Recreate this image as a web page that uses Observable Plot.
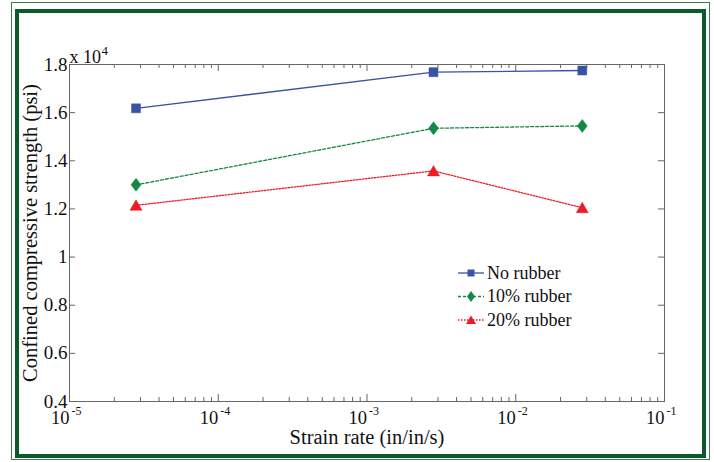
<!DOCTYPE html>
<html><head><meta charset="utf-8">
<script src="https://cdn.jsdelivr.net/npm/d3@7"></script>
<script src="https://cdn.jsdelivr.net/npm/@observablehq/plot@0.6"></script>
<style>
body{margin:0;background:#fff;}
#wrap{position:relative;width:714px;height:462px;overflow:hidden;background:#fff;font-family:"Liberation Serif","Times New Roman",serif;}
.b{position:absolute;box-sizing:border-box;}
#chart,#legend{position:absolute;left:0;top:0;}
</style></head><body>
<div id="wrap">
  <div class="b" style="left:11px;top:2px;width:699px;height:458px;border:1.5px solid #3d7a55;"></div>
  <div class="b" style="left:15px;top:9px;width:691px;height:449px;border:4px solid #0b5a2c;"></div>
  <div id="chart"></div>
  <svg id="legend" width="714" height="462"></svg>
</div>
<script>
// ---- data (strength in units of 10^4 psi) ----
const strainRates = [2.8e-5, 2.8e-3, 2.8e-2];
const seriesNames = ["No rubber", "10% rubber", "20% rubber"];
const noRubber   = [1.618, 1.768, 1.775];
const rubber10   = [1.300, 1.535, 1.545];
const rubber20   = [1.215, 1.358, 1.205];
const yTicks = [0.4, 0.6, 0.8, 1, 1.2, 1.4, 1.6, 1.8];
const yTickLabels = ["0.4", "0.6", "0.8", "1", "1.2", "1.4", "1.6", "1.8"];
const xMajor = [1e-5, 1e-4, 1e-3, 1e-2, 1e-1];
const xExponents = ["-5", "-4", "-3", "-2", "-1"];
const yMultiplier = "4";

const colors = ["#3953a4", "#138a43", "#ed1c24"];
const dashes = [null, "3,2", "1.5,1.5"];

const xMinor = [];
for (const d of xMajor.slice(0, -1)) for (let k = 2; k <= 9; k++) xMinor.push(k * d);

const symSquare = {draw(c){ c.rect(-4.5, -4.5, 9, 9); }};
const symDiamond = {draw(c){ c.moveTo(0,-6.5); c.lineTo(5,0); c.lineTo(0,6.5); c.lineTo(-5,0); c.closePath(); }};
const symTriangle = {draw(c){ c.moveTo(0,-5.5); c.lineTo(6,5); c.lineTo(-6,5); c.closePath(); }};
const symbols = [symSquare, symDiamond, symTriangle];

const seriesValues = [noRubber, rubber10, rubber20];
const rows = [];
seriesValues.forEach((vals, s) => vals.forEach((v, i) => rows.push({series: seriesNames[s], s, x: strainRates[i], y: v})));

const W = 714, H = 462, mL = 69, mR = 50, mT = 64, mB = 61;
const pw = W - mL - mR, ph = H - mT - mB;
const axisColor = "#666";
const font = "Liberation Serif, Times New Roman, serif";

const marks = [
  Plot.frame({stroke: axisColor, strokeWidth: 1}),
  Plot.ruleX(xMajor, {x: d => d, insetTop: ph - 7, stroke: axisColor}),
  Plot.ruleX(xMajor, {x: d => d, insetBottom: ph - 7, stroke: axisColor}),
  Plot.ruleX(xMinor, {x: d => d, insetTop: ph - 4, stroke: axisColor}),
  Plot.ruleX(xMinor, {x: d => d, insetBottom: ph - 4, stroke: axisColor}),
  Plot.ruleY(yTicks, {y: d => d, insetRight: pw - 6, stroke: axisColor}),
  Plot.ruleY(yTicks, {y: d => d, insetLeft: pw - 6, stroke: axisColor}),
];
seriesNames.forEach((name, s) => {
  const data = rows.filter(r => r.s === s);
  marks.push(Plot.line(data, {x: "x", y: "y", stroke: colors[s], strokeWidth: 1.3, strokeDasharray: dashes[s]}));
});
seriesNames.forEach((name, s) => {
  const data = rows.filter(r => r.s === s);
  marks.push(Plot.dot(data, {x: "x", y: "y", symbol: () => symbols[s], r: 4, fill: colors[s], stroke: colors[s], strokeWidth: 0.5}));
});
marks.push(
  Plot.text(xMajor, {x: d => d, frameAnchor: "bottom", dy: 22, text: () => "10", textAnchor: "end", lineAnchor: "bottom", fontSize: 18.5, fill: "#111"}),
  Plot.text(xMajor, {x: d => d, frameAnchor: "bottom", dy: 13, dx: 2, text: (d, i) => xExponents[i], textAnchor: "start", lineAnchor: "bottom", fontSize: 12, fill: "#111"}),
  Plot.text(yTicks, {y: d => d, frameAnchor: "left", dx: -2, text: (d, i) => yTickLabels[i], textAnchor: "end", fontSize: 19, fill: "#111"}),
  Plot.text([0], {frameAnchor: "top-left", dy: -2, text: () => "x 10", textAnchor: "start", lineAnchor: "bottom", fontSize: 18, fill: "#111"}),
  Plot.text([0], {frameAnchor: "top-left", dx: 32, dy: -10, text: () => yMultiplier, textAnchor: "start", lineAnchor: "bottom", fontSize: 13, fill: "#111"}),
  Plot.text([0], {frameAnchor: "bottom", dy: 42, text: () => "Strain rate (in/in/s)", textAnchor: "middle", lineAnchor: "bottom", fontSize: 20.5, fill: "#111"}),
  Plot.text([0], {frameAnchor: "left", dx: -33, rotate: -90, text: () => "Confined compressive strength (psi)", textAnchor: "middle", lineAnchor: "bottom", fontSize: 20.5, fill: "#111"})
);

const chart = Plot.plot({
  width: W, height: H,
  marginLeft: mL, marginRight: mR, marginTop: mT, marginBottom: mB,
  style: {background: "transparent", fontFamily: font, overflow: "visible"},
  x: {type: "log", domain: [1e-5, 1e-1], axis: null},
  y: {domain: [0.4, 1.8], axis: null},
  marks
});
document.getElementById("chart").appendChild(chart);

// ---- legend ----
const lg = d3.select("#legend");
const legendSyms = [
  "M-3.5,-3.5h7v7h-7z",
  "M0,-5.5L4,0L0,5.5L-4,0Z",
  "M0,-4.5L5,4L-5,4Z"
];
const rowY = [273, 296.5, 320];
seriesNames.forEach((name, s) => {
  const g = lg.append("g").attr("transform", `translate(0,${rowY[s]})`);
  g.append("line").attr("x1", 458).attr("x2", 484).attr("y1", 0).attr("y2", 0)
    .attr("stroke", colors[s]).attr("stroke-width", 1.3).attr("stroke-dasharray", dashes[s]);
  g.append("path").attr("d", legendSyms[s]).attr("transform", "translate(471,0)").attr("fill", colors[s]);
  g.append("text").attr("x", 487).attr("y", 0).attr("dy", "0.32em").attr("font-size", 18)
    .attr("font-family", font).attr("fill", "#111").text(name);
});
</script>
</body></html>
